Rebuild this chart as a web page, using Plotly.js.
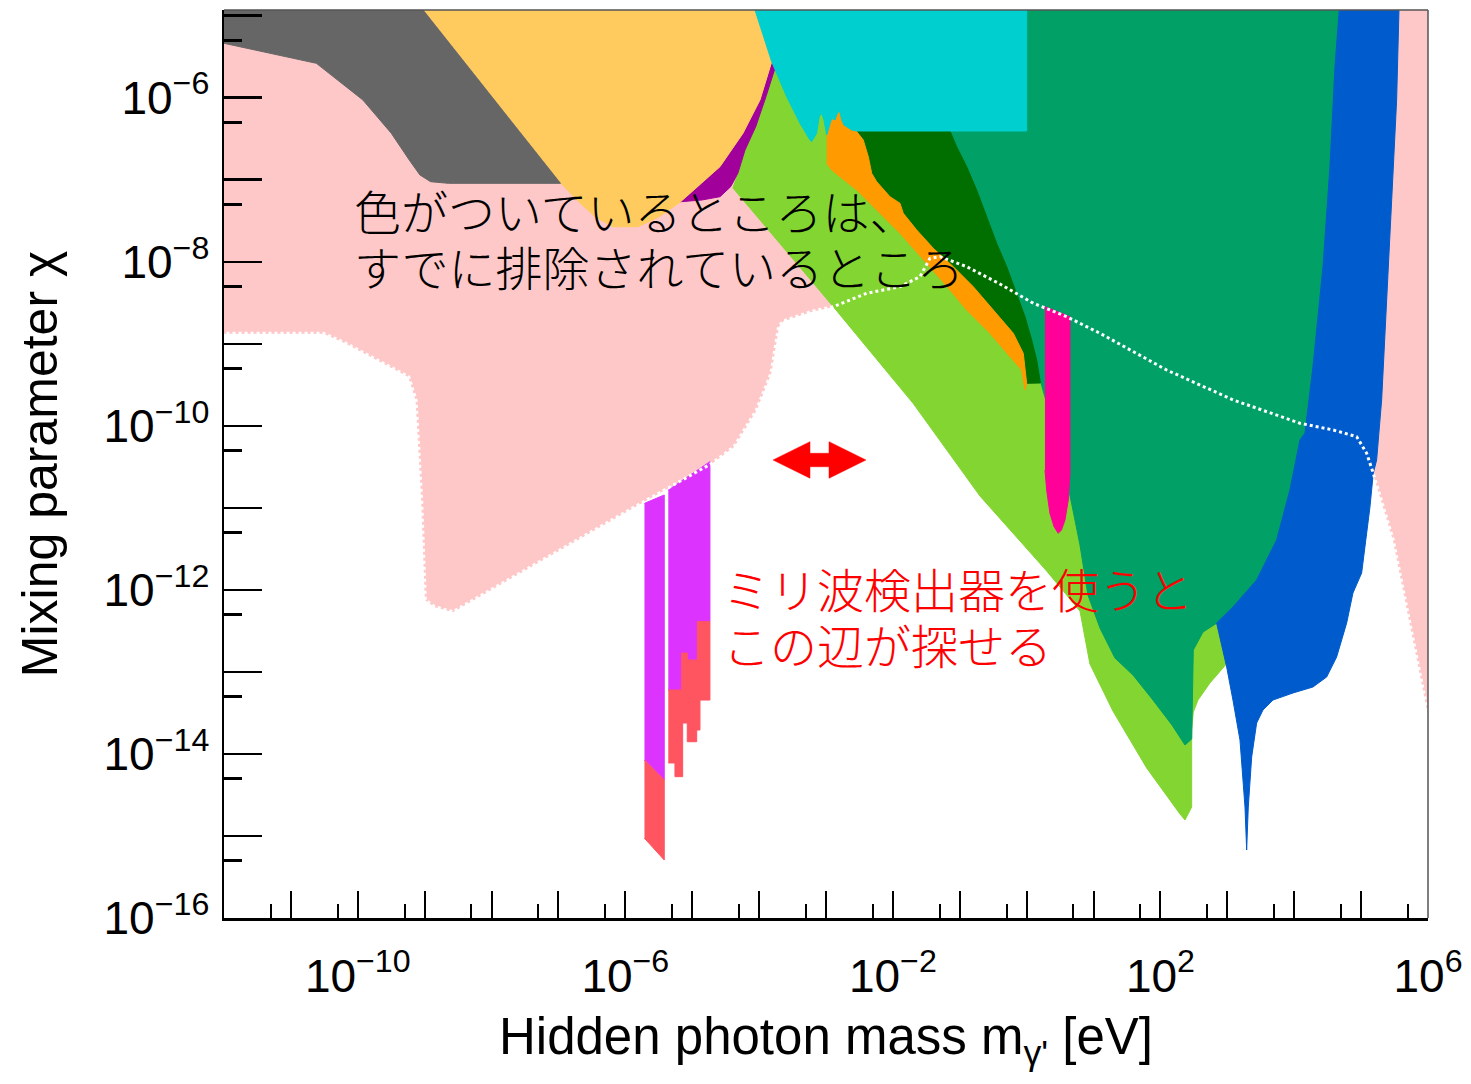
<!DOCTYPE html>
<html>
<head>
<meta charset="utf-8">
<script src="https://cdn.plot.ly/plotly-3.0.1.min.js"></script>
<style>html,body{margin:0;padding:0;background:#fff;}#chart{width:1471px;height:1084px;}</style>
</head>
<body>
<div id="chart"></div>
<script>
// Points beyond the frame (e.g. -12.5 or -4.5) are only used to close shapes outside the visible area.

// light pink, left (astrophysical / cosmological bounds)
const pinkLeftX = [-12.5, -3.75, -3.748, -3.898, -4.051, -4.211, -4.318, -4.335, -2.891, -3.195, -3.643, -3.709, -3.823, -4.041, -4.376, -4.705, -5.727, -8.576, -8.851, -8.990, -9.045, -9.129, -9.238, -10.178, -10.510, -12.5];
const pinkLeftY = [-4.5, -4.5, -5.565, -5.988, -6.354, -6.638, -6.922, -7.085, -8.548, -8.600, -8.722, -8.792, -9.360, -9.807, -10.255, -10.457, -10.925, -12.266, -12.205, -12.123, -10.904, -9.685, -9.401, -8.994, -8.872, -8.872];

// light pink, right strip
const pinkRightX = [5.57, 6.5, 6.5, 6.0, 5.780, 5.481, 5.182, 5.232, 5.307, 5.382, 5.457, 5.531, 5.566];
const pinkRightY = [-4.5, -4.5, -13.505, -13.505, -12.611, -11.392, -10.579, -10.417, -9.685, -8.466, -7.247, -6.028, -4.931];

// dark grey
const greyX = [-12.5, -9.016, -9.016, -6.962, -8.643, -8.911, -9.071, -9.231, -9.499, -9.924, -10.619, -12.0, -12.5];
const greyY = [-4.5, -4.5, -4.931, -7.044, -7.044, -7.024, -6.942, -6.759, -6.434, -6.028, -5.581, -5.337, -5.337];

// yellow
const yellowX = [-9.016, -9.016, -3.95, -3.812, -3.987, -4.241, -4.585, -4.884, -5.173, -5.493, -5.813, -6.186, -6.454, -6.723, -6.962];
const yellowY = [-4.931, -4.5, -4.5, -5.561, -6.028, -6.434, -6.841, -7.064, -7.268, -7.451, -7.573, -7.573, -7.451, -7.247, -7.044];

// purple crescent
const purpleX = [-3.812, -3.733, -3.898, -4.051, -4.211, -4.318, -4.425, -4.585, -4.854, -5.173, -4.884, -4.585, -4.241, -3.987];
const purpleY = [-5.561, -5.565, -5.988, -6.354, -6.638, -6.922, -7.085, -7.207, -7.247, -7.268, -7.064, -6.841, -6.434, -6.028];

// light green band
const limeX = [-3.767, -2.5, -0.40, 1.096, 3.338, 2.985, 2.740, 2.561, 2.491, 2.467, 2.467, 2.367, 2.292, 1.794, 1.290, 0.946, 0.797, 0.299, -0.698, -1.695, -2.891, -4.391, -4.318, -4.211, -4.051, -3.898];
const limeY = [-5.581, -5.581, -6.406, -9.685, -12.123, -12.904, -13.135, -13.343, -13.489, -13.708, -14.647, -14.805, -14.732, -14.171, -13.477, -12.904, -12.258, -11.770, -10.856, -9.729, -8.548, -7.101, -6.922, -6.638, -6.354, -5.988];

// green (large region)
const greenX = [-1.147, 5.0, 5.0, 3.488, 2.845, 2.636, 2.491, 2.467, 2.367, 2.172, 1.888, 1.589, 1.320, 1.096, 0.916, 0.797, 0.677, 0.498, 0.214, -1.147];
const greenY = [-4.5, -4.5, -10.0, -11.941, -12.404, -12.514, -12.733, -13.818, -13.891, -13.647, -13.343, -13.038, -12.831, -12.465, -12.063, -11.453, -10.965, -10.295, -9.478, -6.406];

// dark green wedge
const darkGreenX = [-2.541, -2.541, -1.147, -1.147, -1.047, -0.897, -0.748, -0.598, -0.449, -0.299, -0.150, -0.025, 0.075, 0.150, 0.206, 0.000, -0.051, -0.200, -0.499, -0.798, -1.097, -1.396, -1.644, -1.845, -1.894, -2.044, -2.242, -2.317, -2.368, -2.443];
const darkGreenY = [-6.414, -6.25, -6.25, -6.406, -6.597, -6.841, -7.125, -7.451, -7.775, -8.060, -8.385, -8.670, -8.954, -9.198, -9.478, -9.482, -9.116, -8.872, -8.588, -8.304, -8.060, -7.836, -7.613, -7.409, -7.287, -7.207, -7.024, -6.922, -6.719, -6.516];

// orange band
const orangeX = [-2.990, -2.541, -2.541, -2.443, -2.368, -2.317, -2.242, -2.044, -1.894, -1.845, -1.644, -1.396, -1.097, -0.798, -0.499, -0.200, -0.051, 0.000, -0.025, -0.075, -0.250, -0.549, -0.897, -1.147, -1.495, -1.894, -2.193, -2.541, -2.791, -2.915, -2.990];
const orangeY = [-6.151, -6.151, -6.414, -6.516, -6.719, -6.922, -7.024, -7.207, -7.287, -7.409, -7.613, -7.836, -8.060, -8.304, -8.588, -8.872, -9.116, -9.482, -9.563, -9.320, -9.157, -8.872, -8.588, -8.344, -8.019, -7.653, -7.409, -7.125, -6.963, -6.881, -6.800];

// cyan block
const cyanX = [-4.232, -4.062, -3.812, -3.588, -3.389, -3.240, -3.214, -3.140, -3.101, -3.065, -3.030, -2.990, -2.951, -2.915, -2.866, -2.840, -2.801, -2.765, -2.731, -2.691, -2.616, -2.541, 0.000, 0.000];
const cyanY = [-4.5, -4.931, -5.561, -5.988, -6.312, -6.516, -6.536, -6.434, -6.232, -6.190, -6.272, -6.455, -6.354, -6.251, -6.272, -6.211, -6.150, -6.272, -6.333, -6.354, -6.394, -6.406, -6.406, -4.5];

// magenta bar
const magentaX = [0.274, 0.647, 0.647, 0.622, 0.573, 0.520, 0.472, 0.410, 0.348, 0.299, 0.274];
const magentaY = [-8.548, -8.670, -10.579, -10.904, -11.148, -11.270, -11.310, -11.230, -11.066, -10.782, -10.539];

// blue band
const blueX = [4.69, 5.57, 5.566, 5.531, 5.457, 5.382, 5.307, 5.232, 5.182, 5.132, 5.008, 4.878, 4.784, 4.634, 4.485, 4.280, 3.981, 3.682, 3.533, 3.438, 3.364, 3.313, 3.289, 3.264, 3.189, 3.084, 2.990, 2.840, 3.084, 3.438, 3.737, 3.936, 4.086, 4.161, 4.280, 4.430, 4.534, 4.609, 4.673];
const blueY = [-4.5, -4.5, -4.931, -6.028, -7.247, -8.466, -9.685, -10.417, -10.579, -10.990, -11.794, -12.038, -12.404, -12.818, -13.062, -13.184, -13.257, -13.343, -13.464, -13.623, -14.037, -14.647, -15.171, -14.647, -13.830, -13.343, -12.940, -12.404, -12.209, -11.880, -11.392, -10.782, -10.173, -10.088, -9.283, -8.064, -6.845, -5.626, -4.931];

// narrow bars (violet upper part, coral lower part)
const violetLeftX = [-5.714, -5.418, -5.418, -5.714];
const violetLeftY = [-10.945, -10.843, -14.318, -14.074];
const coralLeftX = [-5.714, -5.418, -5.418, -5.714];
const coralLeftY = [-14.074, -14.318, -15.293, -15.028];
const violetRightX = [-5.358, -4.735, -4.735, -4.924, -4.924, -5.074, -5.074, -5.158, -5.158, -5.358];
const violetRightY = [-10.782, -10.437, -12.388, -12.388, -12.855, -12.855, -12.770, -12.770, -13.221, -13.221];
const coralRightX = [-5.358, -5.158, -5.158, -5.074, -5.074, -4.924, -4.924, -4.735, -4.735, -4.884, -4.884, -4.933, -4.933, -5.074, -5.074, -5.143, -5.143, -5.258, -5.258, -5.358];
const coralRightY = [-13.221, -13.221, -12.770, -12.770, -12.855, -12.855, -12.388, -12.388, -13.343, -13.343, -13.708, -13.708, -13.851, -13.851, -13.623, -13.623, -14.277, -14.277, -14.110, -14.110];

// white dotted outline
const dotX = [-12.5, -10.510, -10.178, -9.238, -9.129, -9.045, -8.990, -8.851, -8.576, -5.727, -4.705, -4.376, -4.041, -3.823, -3.709, -3.643, -3.195, -2.891, -2.392, -1.894, -1.595, -1.446, -1.296, -0.897, -0.399, 0.099, 0.598, 1.096, 2.093, 3.089, 4.086, 4.584, 4.934, 5.083, 5.182, 5.481, 5.780, 6.0];
const dotY = [-8.872, -8.872, -8.994, -9.401, -9.685, -10.904, -12.123, -12.205, -12.266, -10.925, -10.457, -10.255, -9.807, -9.360, -8.792, -8.722, -8.600, -8.548, -8.385, -8.304, -8.182, -7.958, -7.938, -8.060, -8.271, -8.506, -8.670, -8.872, -9.320, -9.685, -9.969, -10.051, -10.133, -10.335, -10.579, -11.392, -12.611, -13.505];

// axis ticks: labelled decades, every decade, and the 5x minor ticks
const xLabelVals = [1e-10, 1e-6, 1e-2, 1e2, 1e6];
const xLabelText = ['10<sup>\u221210</sup>', '10<sup>\u22126</sup>', '10<sup>\u22122</sup>', '10<sup>2</sup>', '10<sup>6</sup>'];
const xDecadeVals = [1e-12, 1e-11, 1e-10, 1e-9, 1e-8, 1e-7, 1e-6, 1e-5, 1e-4, 1e-3, 1e-2, 1e-1, 1e0, 1e1, 1e2, 1e3, 1e4, 1e5, 1e6];
const xMinorVals = [5e-12, 5e-11, 5e-10, 5e-9, 5e-8, 5e-7, 5e-6, 5e-5, 5e-4, 5e-3, 5e-2, 5e-1, 5e0, 5e1, 5e2, 5e3, 5e4, 5e5];
const yLabelVals = [1e-16, 1e-14, 1e-12, 1e-10, 1e-8, 1e-6];
const yLabelText = ['10<sup>\u221216</sup>', '10<sup>\u221214</sup>', '10<sup>\u221212</sup>', '10<sup>\u221210</sup>', '10<sup>\u22128</sup>', '10<sup>\u22126</sup>'];
const yDecadeVals = [1e-16, 1e-15, 1e-14, 1e-13, 1e-12, 1e-11, 1e-10, 1e-9, 1e-8, 1e-7, 1e-6, 1e-5];
const yMinorVals = [5e-16, 5e-15, 5e-14, 5e-13, 5e-12, 5e-11, 5e-10, 5e-9, 5e-8, 5e-7, 5e-6];

const X_RANGE = [-12, 6];
const Y_RANGE = [-16, -4.931];

const toLin = a => a.map(v => Math.pow(10, v));
function region(xs, ys, color) {
  return {type: 'scatter', mode: 'lines', x: toLin(xs), y: toLin(ys), fill: 'toself',
    fillcolor: color, line: {color: color, width: 1}, hoverinfo: 'skip', showlegend: false};
}

const traces = [
  region(pinkLeftX, pinkLeftY, '#FFC8C8'),
  region(pinkRightX, pinkRightY, '#FFC8C8'),
  region(greyX, greyY, '#666666'),
  region(limeX, limeY, '#83D531'),
  region(purpleX, purpleY, '#A2009A'),
  region(yellowX, yellowY, '#FFCB5E'),
  region(greenX, greenY, '#00A066'),
  region(darkGreenX, darkGreenY, '#006F00'),
  region(orangeX, orangeY, '#FF9A00'),
  region(cyanX, cyanY, '#00CFCF'),
  region(magentaX, magentaY, '#FF0099'),
  region(blueX, blueY, '#005BCC'),
  region(violetLeftX, violetLeftY, '#DD33FF'),
  region(coralLeftX, coralLeftY, '#FF5560'),
  region(violetRightX, violetRightY, '#DD33FF'),
  region(coralRightX, coralRightY, '#FF5560'),
  {type: 'scatter', mode: 'lines', x: toLin(dotX), y: toLin(dotY),
   line: {color: '#FFFFFF', width: 3, dash: '3px,3px'}, hoverinfo: 'skip', showlegend: false},
  // empty trace that carries the decade-tick overlay axes
  {type: 'scatter', mode: 'lines', x: [], y: [], xaxis: 'x2', yaxis: 'y2', hoverinfo: 'skip', showlegend: false}
];

const axisFont = {family: "'Liberation Sans', Arial, sans-serif", size: 46, color: '#000'};
const jpBlack = {family: "'Noto Sans CJK JP', sans-serif", size: 47, color: '#000', weight: 300};
const jpRed = {family: "'Noto Sans CJK JP', sans-serif", size: 47, color: '#FF0000', weight: 300};

const layout = {
  width: 1471, height: 1084,
  margin: {l: 224, r: 43, t: 10, b: 166, pad: 0},
  paper_bgcolor: '#FFFFFF', plot_bgcolor: '#FFFFFF',
  showlegend: false,
  xaxis: {
    type: 'log', range: X_RANGE, automargin: false,
    showgrid: false, zeroline: false,
    showline: true, linecolor: '#000', linewidth: 2.5, mirror: false,
    ticks: 'inside', tickmode: 'array', tickvals: xLabelVals, ticktext: xLabelText,
    ticklen: 27, tickwidth: 2, tickcolor: '#000',
    minor: {tickmode: 'array', tickvals: xMinorVals, ticks: 'inside', ticklen: 14, tickwidth: 2, tickcolor: '#000', showgrid: false},
    tickfont: axisFont, ticklabelstandoff: 16,
    title: {text: "Hidden photon mass m<sub>\u03b3'</sub> [eV]", standoff: 18,
            font: {family: "'Liberation Sans', Arial, sans-serif", size: 51, color: '#000'}}
  },
  yaxis: {
    type: 'log', range: Y_RANGE, automargin: false,
    showgrid: false, zeroline: false,
    showline: true, linecolor: '#000', linewidth: 2.5, mirror: false,
    ticks: 'inside', tickmode: 'array', tickvals: yLabelVals, ticktext: yLabelText,
    ticklen: 38, tickwidth: 2.5, tickcolor: '#000',
    minor: {tickmode: 'array', tickvals: yMinorVals, ticks: 'inside', ticklen: 18, tickwidth: 2.5, tickcolor: '#000', showgrid: false},
    tickfont: axisFont, ticklabelstandoff: 3,
    title: {text: 'Mixing parameter \u03c7', standoff: 30,
            font: {family: "'Liberation Sans', Arial, sans-serif", size: 50, color: '#000'}}
  },
  xaxis2: {
    type: 'log', range: X_RANGE, overlaying: 'x', anchor: 'y2', side: 'bottom', automargin: false,
    showgrid: false, zeroline: false, showline: false, showticklabels: false,
    ticks: 'inside', tickmode: 'array', tickvals: xDecadeVals, ticklen: 27, tickwidth: 2, tickcolor: '#000'
  },
  yaxis2: {
    type: 'log', range: Y_RANGE, overlaying: 'y', anchor: 'x2', side: 'left', automargin: false,
    showgrid: false, zeroline: false, showline: false, showticklabels: false,
    ticks: 'inside', tickmode: 'array', tickvals: yDecadeVals, ticklen: 38, tickwidth: 2.5, tickcolor: '#000'
  },
  shapes: [
    {type: 'line', xref: 'paper', yref: 'paper', x0: 0, x1: 1, y0: 1, y1: 1, line: {color: '#555555', width: 1.5}},
    {type: 'line', xref: 'paper', yref: 'paper', x0: 1, x1: 1, y0: 0, y1: 1, line: {color: '#555555', width: 1.5}},
    {type: 'path', xref: 'paper', yref: 'paper', fillcolor: '#FF0000', line: {color: '#FF0000', width: 0.5},
     path: 'M0.4560,0.5044 L0.4867,0.5246 L0.4867,0.5118 L0.5025,0.5118 L0.5025,0.5246 L0.5332,0.5044 L0.5025,0.4843 L0.5025,0.4970 L0.4867,0.4970 L0.4867,0.4843 Z'}
  ],
  annotations: [
    {xref: 'paper', yref: 'paper', x: 0.106, y: 0.7808, xanchor: 'left', yanchor: 'middle', showarrow: false,
     text: '色がついているところは、', font: jpBlack},
    {xref: 'paper', yref: 'paper', x: 0.106, y: 0.7181, xanchor: 'left', yanchor: 'middle', showarrow: false,
     text: 'すでに排除されているところ', font: jpBlack},
    {xref: 'paper', yref: 'paper', x: 0.4125, y: 0.3645, xanchor: 'left', yanchor: 'middle', showarrow: false,
     text: 'ミリ波検出器を使うと', font: jpRed},
    {xref: 'paper', yref: 'paper', x: 0.4125, y: 0.3018, xanchor: 'left', yanchor: 'middle', showarrow: false,
     text: 'この辺が探せる', font: jpRed}
  ]
};

Plotly.newPlot('chart', traces, layout, {staticPlot: true, displayModeBar: false});
</script>
</body>
</html>
